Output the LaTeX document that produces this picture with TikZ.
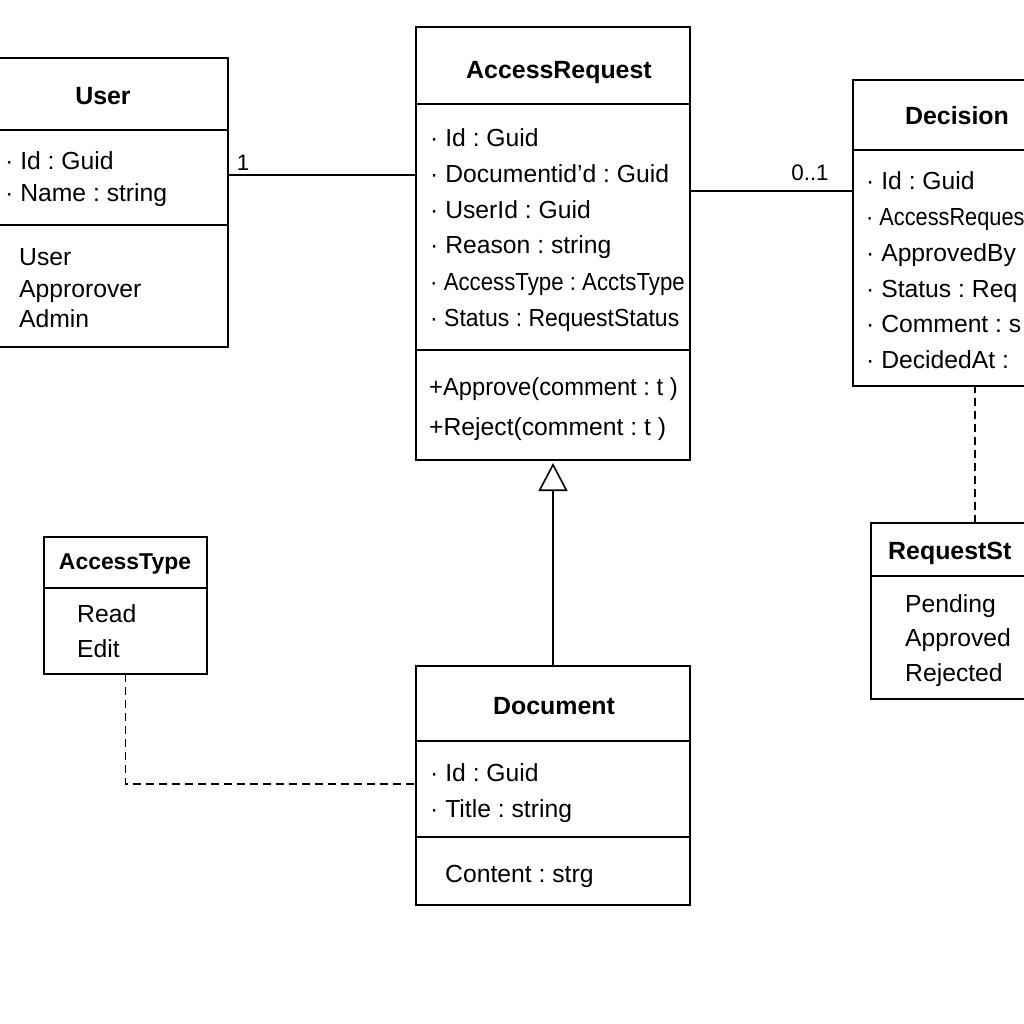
\documentclass[tikz,border=0pt]{standalone}
\usepackage{fontspec}
\setmainfont{Liberation Sans}
\usetikzlibrary{arrows.meta,calc}
\frenchspacing
\begin{document}
\frenchspacing
\begin{tikzpicture}[x=1bp,y=-1bp,
  cls/.style={draw=black, line width=1.6bp, anchor=north west, inner sep=0pt, outer sep=0pt},
  div/.style={line width=1.6bp},
  conn/.style={line width=1.6bp},
  dep/.style={line width=1.4bp, dash pattern=on 8bp off 5bp},
  ttl/.style={anchor=base, inner sep=0pt, font=\bfseries\fontsize{25}{30}\selectfont},
  ttlw/.style={anchor=base west, inner sep=0pt, font=\bfseries\fontsize{25}{30}\selectfont},
  att/.style={anchor=base west, inner sep=0pt, font=\fontsize{24.8}{30}\selectfont},
  mult/.style={anchor=base, inner sep=0pt, font=\fontsize{22.5}{26}\selectfont}]
\useasboundingbox (0,0) rectangle (1024,1024);
\clip (0,0) rectangle (1024,1024);
\fill[white] (0,0) rectangle (1024,1024);

% ---------- User ----------
\node[cls, minimum width=250bp, minimum height=289bp] (user) at (-22,58) {};
\draw[div] ([yshift=-72bp]user.north west) -- ([yshift=-72bp]user.north east);
\draw[div] ([yshift=-167bp]user.north west) -- ([yshift=-167bp]user.north east);
\node[ttl] (userT) at (103,104) {User};
\node[att] (userA1) at (5,169) {· Id : Guid};
\node[att] (userA2) at (5,201) {· Name : string};
\node[att] (userE1) at (19,265) {User};
\node[att] (userE2) at (19,297) {Approrover};
\node[att] (userE3) at (19,327) {Admin};

% ---------- AccessRequest ----------
\node[cls, minimum width=274bp, minimum height=433bp] (areq) at (416,27) {};
\draw[div] ([yshift=-77bp]areq.north west) -- ([yshift=-77bp]areq.north east);
\draw[div] ([yshift=-323bp]areq.north west) -- ([yshift=-323bp]areq.north east);
\node[ttl] (areqT) at (559,78) {AccessRequest};
\node[att] (areqA1) at (430,146) {· Id : Guid};
\node[att] (areqA2) at (430,182) {· Documentid'd : Guid};
\node[att] (areqA3) at (430,218) {· UserId : Guid};
\node[att] (areqA4) at (430,253) {· Reason : string};
\node[att] (areqA5) at (430,290) {\scalebox{0.9}[1]{· AccessType : AcctsType}};
\node[att] (areqA6) at (430,326) {\scalebox{0.93}[1]{· Status : RequestStatus}};
\node[att] (areqM1) at (429,395) {\scalebox{0.96}[1]{+Approve(comment : t )}};
\node[att] (areqM2) at (429,435) {+Reject(comment : t )};

% ---------- Decision ----------
\node[cls, minimum width=208bp, minimum height=306bp] (dec) at (853,80) {};
\draw[div] ([yshift=-70bp]dec.north west) -- ([yshift=-70bp]dec.north east);
\node[ttl] (decT) at (957,124) {Decision};
\node[att] (decA1) at (866,189) {· Id : Guid};
\node[att] (decA2) at (866,225) {\scalebox{0.88}[1]{· AccessReques}};
\node[att] (decA3) at (866,261) {· ApprovedBy};
\node[att] (decA4) at (866,297) {· Status : Req};
\node[att] (decA5) at (866,332) {· Comment : s};
\node[att] (decA6) at (866,368) {· DecidedAt :};

% ---------- RequestStatus ----------
\node[cls, minimum width=208bp, minimum height=176bp] (rs) at (871,523) {};
\draw[div] ([yshift=-53bp]rs.north west) -- ([yshift=-53bp]rs.north east);
\node[ttlw] (rsT) at (888,559) {RequestSt};
\node[att] (rsE1) at (905,612) {Pending};
\node[att] (rsE2) at (905,646) {Approved};
\node[att] (rsE3) at (905,681) {Rejected};

% ---------- AccessType ----------
\node[cls, minimum width=163bp, minimum height=137bp] (at) at (44,537) {};
\draw[div] ([yshift=-51bp]at.north west) -- ([yshift=-51bp]at.north east);
\node[ttl, font=\bfseries\fontsize{23}{27}\selectfont] (atT) at (125,569) {AccessType};
\node[att] (atE1) at (77,622) {Read};
\node[att] (atE2) at (77,657) {Edit};

% ---------- Document ----------
\node[cls, minimum width=274bp, minimum height=239bp] (doc) at (416,666) {};
\draw[div] ([yshift=-75bp]doc.north west) -- ([yshift=-75bp]doc.north east);
\draw[div] ([yshift=-171bp]doc.north west) -- ([yshift=-171bp]doc.north east);
\node[ttl] (docT) at (554,714) {Document};
\node[att] (docA1) at (430,781) {· Id : Guid};
\node[att] (docA2) at (430,817) {· Title : string};
\node[att] (docM1) at (445,882) {Content : strg};

% ---------- Connectors ----------
\coordinate (uc) at ([yshift=-117bp]user.north east);
\draw[conn] (uc) -- (uc -| areq.west);
\node[mult] (m1) at (243,170) {1};

\coordinate (dc) at ([yshift=-164bp]areq.north east);
\draw[conn] (dc) -- (dc -| dec.west);
\node[mult] (m2) at (810,180) {0..1};

\draw[conn, -{Triangle[open, length=28bp, width=29bp, line width=1.6bp]}] (doc.north) -- ([yshift=-3bp]areq.south);

\draw[dep] (rs.north) -- (rs.north |- dec.south);

\coordinate (ac) at ([yshift=-118bp]doc.north west);
\draw[dep] (at.south) |- (ac);
\end{tikzpicture}
\end{document}
